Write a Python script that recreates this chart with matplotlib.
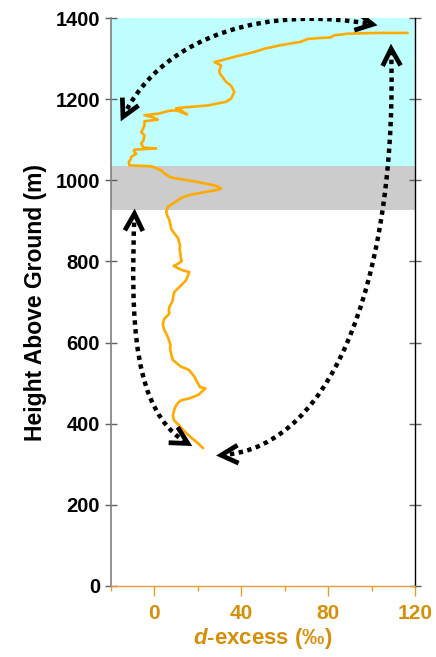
import matplotlib
matplotlib.use("Agg")
import numpy as np
import matplotlib.pyplot as plt
from matplotlib.path import Path
from matplotlib.patches import PathPatch
from matplotlib.ticker import MultipleLocator

plt.rcParams['font.family'] = ['Liberation Sans', 'DejaVu Sans']
plt.rcParams['mathtext.fontset'] = 'custom'
plt.rcParams['mathtext.it'] = 'Liberation Sans:italic:bold'
plt.rcParams['mathtext.rm'] = 'Liberation Sans:bold'

# d-excess profile (permil) against height above ground (m)
d_excess = [22.3, 20.0, 17.0, 14.0, 11.5, 9.0, 8.5, 9.0, 10.0, 11.0, 12.5, 16.0,
            18.0, 20.5, 22.0, 23.5, 21.0, 20.5, 19.2, 18.5, 17.0, 16.0, 14.0, 12.3,
            10.5, 8.5, 8.0, 7.7, 7.2, 7.4, 6.9, 6.3, 5.4, 4.5, 3.9, 4.1, 4.6, 5.8,
            6.9, 6.6, 6.9, 7.8, 8.5, 8.7, 9.2, 10.3, 11.5, 13.0, 14.6, 15.3, 16.1,
            13.1, 11.0, 8.9, 11.0, 12.6, 12.1, 12.0, 11.6, 11.8, 11.2, 11.0, 10.1,
            9.2, 8.4, 7.7, 7.4, 6.9, 6.0, 5.4, 5.9, 6.2, 8.5, 11.0, 13.1, 17.0,
            20.0, 24.0, 28.4, 30.7, 29.5, 27.6, 23.5, 20.0, 15.5, 12.3, 9.0, 6.9,
            5.0, 3.1, 1.0, -1.5, -6.1, -11.5, -11.8, -11.0, -10.7, -8.4, -9.5,
            -9.2, 0.8, -5.0, -6.1, -5.0, -4.6, -6.1, -5.2, -4.6, -4.6, 1.6, -0.7,
            -4.6, 2.0, 6.9, 12.3, 15.0, 11.5, 10.0, 15.3, 24.5, 33.0, 35.3, 36.8,
            35.3, 33.0, 31.4, 30.0, 29.9, 30.7, 27.6, 32.0, 36.8, 46.0, 50.6, 58.3,
            67.4, 70.5, 75.0, 81.3, 82.8, 88.9, 95.0, 102.7, 116.5]
height = [340, 352, 365, 380, 395, 408, 420, 432, 445, 452, 458, 462,
          466, 472, 480, 487, 490, 495, 507, 515, 525, 532, 537, 540,
          548, 557, 565, 573, 585, 595, 602, 612, 622, 632, 643, 651, 659, 665,
          672, 680, 688, 697, 705, 715, 725, 731, 737, 745, 754, 764, 774,
          778, 783, 789, 795, 801, 810, 820, 830, 840, 850, 857, 863,
          869, 875, 881, 890, 902, 912, 922, 930, 935, 943, 952, 959, 965,
          968, 972, 976, 980, 984, 988, 992, 996, 1000, 1003, 1006, 1009,
          1016, 1025, 1030, 1035, 1036, 1037, 1045, 1052, 1058, 1066, 1072,
          1076, 1079, 1081, 1091, 1100, 1111, 1119, 1128, 1136, 1146, 1150, 1156,
          1161, 1165, 1172, 1173, 1163, 1170, 1178, 1181, 1185, 1194, 1202, 1218,
          1234, 1243, 1255, 1265, 1272, 1284, 1292, 1298, 1305, 1317, 1325, 1334,
          1342, 1349, 1351, 1353, 1358, 1362, 1363, 1364, 1364]

# shaded layers (m)
cyan_layer = (1035, 1400)
gray_layer = (926, 1035)

x_ticks = [0, 40, 80, 120]
y_ticks = [0, 200, 400, 600, 800, 1000, 1200, 1400]

# curved arrows: cubic Bezier control points (d-excess, height)
arrow_top = [(-14.5, 1157), (5, 1370), (55, 1430), (100.5, 1385)]
arrow_right = [(30.7, 322), (85, 340), (112, 800), (109, 1325)]
arrow_left = [(-9.2, 918), (-11, 650), (-10, 430), (15.4, 351)]

gold = '#D4900C'
line_orange = '#FFAA00'

fig = plt.figure(figsize=(4.36, 6.57), dpi=100)
ax = fig.add_axes([0.2546, 0.1085, 0.6972, 0.8636])
ax.set_xlim(-20, 120)
ax.set_ylim(0, 1400)

ax.axhspan(*cyan_layer, color='#BFFFFF', lw=0, zorder=0)
ax.axhspan(*gray_layer, color='#CCCCCC', lw=0, zorder=0)

ax.plot(d_excess, height, color=line_orange, lw=1.9, zorder=3)


def chevron(tip, ctrl, length=17.0, half_width=9.0):
    """Open arrowhead at `tip`, pointing away from `ctrl` (sizes in pixels)."""
    to_disp = ax.transData
    t = np.array(to_disp.transform(tip))
    c = np.array(to_disp.transform(ctrl))
    u = (t - c) / np.hypot(*(t - c))
    n = np.array([-u[1], u[0]])
    pts_disp = [t - length * u + half_width * n, t, t - length * u - half_width * n]
    pts = to_disp.inverted().transform(pts_disp)
    ax.plot(pts[:, 0], pts[:, 1], color='black', lw=3.4,
            solid_joinstyle='miter', solid_capstyle='butt', zorder=5)


def dotted_arrow(pts):
    path = Path(pts, [Path.MOVETO, Path.CURVE4, Path.CURVE4, Path.CURVE4])
    ax.add_patch(PathPatch(path, fill=False, lw=3.2, color='black',
                           linestyle=(0, (1, 1)), capstyle='butt', zorder=4))
    chevron(pts[0], pts[1])
    chevron(pts[3], pts[2])


for a in (arrow_top, arrow_right, arrow_left):
    dotted_arrow(a)

ax.set_xticks(x_ticks)
ax.xaxis.set_minor_locator(MultipleLocator(20))
ax.set_yticks(y_ticks)

ax.spines['top'].set_visible(False)
ax.spines['left'].set_color('#808080')
ax.spines['left'].set_linewidth(1.2)
ax.spines['right'].set_color('black')
ax.spines['right'].set_linewidth(1.0)
ax.spines['bottom'].set_color('#E0A030')
ax.spines['bottom'].set_linewidth(1.0)

ax.tick_params(axis='x', which='major', direction='out', length=7, width=1,
               color='#E0A030', labelcolor=gold, labelsize=15, pad=6)
ax.tick_params(axis='x', which='minor', direction='out', length=3.5, width=1,
               color='#E0A030')
ax.tick_params(axis='y', which='major', direction='inout', length=8, width=1,
               color='#606060', labelcolor='black', labelsize=14.5, left=True,
               right=True, pad=4)
for lab in ax.get_xticklabels() + ax.get_yticklabels():
    lab.set_fontweight('bold')

ax.set_xlabel(r'$\it{d}$-excess (‰)', color=gold, fontsize=16,
              fontweight='bold', labelpad=2)
ax.set_ylabel('Height Above Ground (m)', fontsize=16.5, fontweight='bold',
              labelpad=6)

fig.savefig('out.png', dpi=100)
